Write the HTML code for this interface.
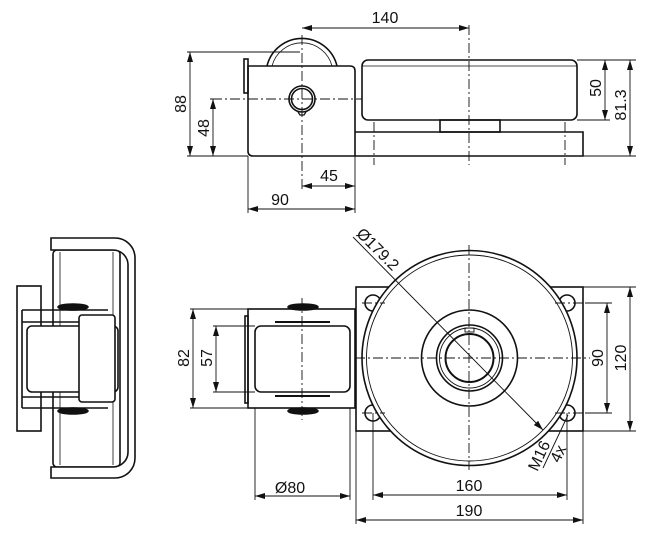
<!DOCTYPE html>
<html><head><style>body{margin:0;background:#fff}svg{display:block}text{font-family:"Liberation Sans",sans-serif;font-size:16px;fill:#111}</style></head>
<body>
<svg width="650" height="536" viewBox="0 0 650 536" xmlns="http://www.w3.org/2000/svg">
<defs>
<marker id="a" viewBox="0 0 10 6" refX="10" refY="3" markerWidth="10" markerHeight="6" orient="auto-start-reverse" markerUnits="userSpaceOnUse"><path d="M0,0L10,3L0,6z" fill="#111"/></marker>
</defs>
<g fill="none" stroke="#111" stroke-width="1.6">
<!-- TOP VIEW -->
<path d="M267,66 A36,36 0 0 1 337,66"/>
<path d="M272,66 A31,31 0 0 1 332,66" stroke-width="0.8"/>
<rect x="244" y="59" width="4" height="34"/>
<path d="M248,66 H350 Q355,66 355,71 V156 H253 Q248,156 248,151 Z"/>
<circle cx="302" cy="99" r="13"/><circle cx="302" cy="99" r="10.5"/>
<path d="M298,112 l2,3 l4,0 l2,-3" stroke-width="1.2"/>
<rect x="362" y="60" width="215" height="60" rx="6"/>
<line x1="362" y1="66" x2="577" y2="66" stroke-width="0.8"/>
<rect x="440" y="120" width="60" height="12"/>
<path d="M355,132 H583 V156 H355"/>
</g>
<g fill="none" stroke="#111" stroke-width="0.9">
<path d="M212,99 H362 M302,35 V190 M469,25 V165 M374,122 V165 M565,122 V165" stroke-dasharray="10,3,2,3"/>
<path d="M187,52 H300 M187,156 H248 M210,99 H212 M577,60 H636 M577,120 H610 M583,156 H636 M248,156 V213 M355,156 V213"/>
<line x1="302" y1="28" x2="469" y2="28" marker-start="url(#a)" marker-end="url(#a)"/>
<line x1="190" y1="52" x2="190" y2="156" marker-start="url(#a)" marker-end="url(#a)"/>
<line x1="213" y1="99" x2="213" y2="156" marker-start="url(#a)" marker-end="url(#a)"/>
<line x1="605" y1="60" x2="605" y2="120" marker-start="url(#a)" marker-end="url(#a)"/>
<line x1="630" y1="60" x2="630" y2="156" marker-start="url(#a)" marker-end="url(#a)"/>
<line x1="302" y1="186" x2="355" y2="186" marker-start="url(#a)" marker-end="url(#a)"/>
<line x1="248" y1="209" x2="355" y2="209" marker-start="url(#a)" marker-end="url(#a)"/>
</g>
<text x="385" y="23" text-anchor="middle">140</text>
<text x="329" y="181" text-anchor="middle">45</text>
<text x="280" y="205" text-anchor="middle">90</text>
<text transform="translate(186,104) rotate(-90)" text-anchor="middle">88</text>
<text transform="translate(209,128) rotate(-90)" text-anchor="middle">48</text>
<text transform="translate(601,88) rotate(-90)" text-anchor="middle">50</text>
<text transform="translate(626,105) rotate(-90)" text-anchor="middle">81.3</text>

<!-- LEFT VIEW -->
<g fill="none" stroke="#111" stroke-width="1.6">
<rect x="53" y="250" width="67" height="217" rx="4"/>
<path d="M60,252 V465 M113,252 V465" stroke-width="0.8"/>
<path d="M51,238 H115 A20,20 0 0 1 135,258 V458 A20,20 0 0 1 115,478 H51 V467 H113 A15,15 0 0 0 128,452 V264 A15,15 0 0 0 113,250 H51 Z" fill="#fff"/>
<rect x="17" y="286" width="24" height="145" fill="#fff"/>
<path d="M22,310 H108 M22,322 H108 M22,397 H108 M22,408 H108 M22,310 V408"/>
<rect x="27" y="326" width="91" height="66" rx="5" fill="#fff"/>
<ellipse cx="73" cy="307" rx="15" ry="3" fill="#111"/>
<ellipse cx="73" cy="411" rx="15" ry="3" fill="#111"/>
<rect x="79" y="315" width="36" height="87" rx="3" fill="#fff"/>
</g>

<!-- MIDDLE VIEW -->
<g fill="none" stroke="#111" stroke-width="1.6">
<rect x="245" y="316" width="3" height="87"/>
<rect x="248" y="309" width="107" height="99"/>
<rect x="255" y="326" width="95" height="66" rx="6"/>
<ellipse cx="303" cy="307" rx="15" ry="3" fill="#111"/>
<ellipse cx="303" cy="411" rx="15" ry="3" fill="#111"/>
<path d="M275,322 h55 M275,396 h55" stroke-width="2"/>
</g>
<g fill="none" stroke="#111" stroke-width="0.9">
<path d="M302,298 V420" stroke-dasharray="10,3,2,3"/>
<path d="M190,309 H248 M213,326 H255 M213,392 H255 M190,408 H248 M255,408 V500 M350,408 V500"/>
<line x1="193" y1="309" x2="193" y2="408" marker-start="url(#a)" marker-end="url(#a)"/>
<line x1="216" y1="326" x2="216" y2="392" marker-start="url(#a)" marker-end="url(#a)"/>
<line x1="255" y1="496" x2="350" y2="496" marker-start="url(#a)" marker-end="url(#a)"/>
</g>
<text transform="translate(189,358) rotate(-90)" text-anchor="middle">82</text>
<text transform="translate(212,358) rotate(-90)" text-anchor="middle">57</text>
<text x="290" y="493" text-anchor="middle">Ø80</text>

<!-- RIGHT VIEW -->
<g fill="none" stroke="#111" stroke-width="1.6">
<rect x="356" y="287" width="227" height="144"/>
<circle cx="373" cy="303" r="8"/><circle cx="567" cy="303" r="8"/>
<circle cx="373" cy="413" r="8"/><circle cx="567" cy="413" r="8"/>
<circle cx="469.5" cy="358" r="107.5" fill="#fff"/>
<circle cx="469.5" cy="358" r="103" stroke-width="0.9"/>
<circle cx="469.5" cy="358" r="48"/>
<circle cx="469.5" cy="358" r="33"/>
<circle cx="469.5" cy="358" r="30" stroke-width="0.9"/>
<circle cx="469.5" cy="358" r="24" stroke-width="2"/>
<rect x="465" y="328" width="9" height="4" stroke-width="0.9"/>
</g>
<g fill="none" stroke="#111" stroke-width="0.9">
<path d="M469,245 V470 M355,358 H590 M362,303 H385 M555,303 H585 M362,413 H385 M555,413 H585" stroke-dasharray="10,3,2,3"/>
<path d="M583,287 H636 M585,303 H612 M585,413 H612 M583,431 H636 M373,413 V500 M567,413 V500 M356,431 V524 M583,431 V524"/>
<line x1="353" y1="237" x2="543" y2="430" marker-end="url(#a)"/>
<path d="M568,415 L543,468"/>
<line x1="607" y1="303" x2="607" y2="413" marker-start="url(#a)" marker-end="url(#a)"/>
<line x1="630" y1="287" x2="630" y2="431" marker-start="url(#a)" marker-end="url(#a)"/>
<line x1="373" y1="495" x2="567" y2="495" marker-start="url(#a)" marker-end="url(#a)"/>
<line x1="356" y1="520" x2="583" y2="520" marker-start="url(#a)" marker-end="url(#a)"/>
</g>
<text transform="translate(374,253) rotate(45)" text-anchor="middle">Ø179.2</text>
<text transform="translate(544,458) rotate(-65)" text-anchor="middle">M16</text>
<text transform="translate(563,456) rotate(-65)" text-anchor="middle">4x</text>
<text transform="translate(603,358) rotate(-90)" text-anchor="middle">90</text>
<text transform="translate(626,358) rotate(-90)" text-anchor="middle">120</text>
<text x="469" y="491" text-anchor="middle">160</text>
<text x="469" y="516" text-anchor="middle">190</text>
</svg>
</body></html>
